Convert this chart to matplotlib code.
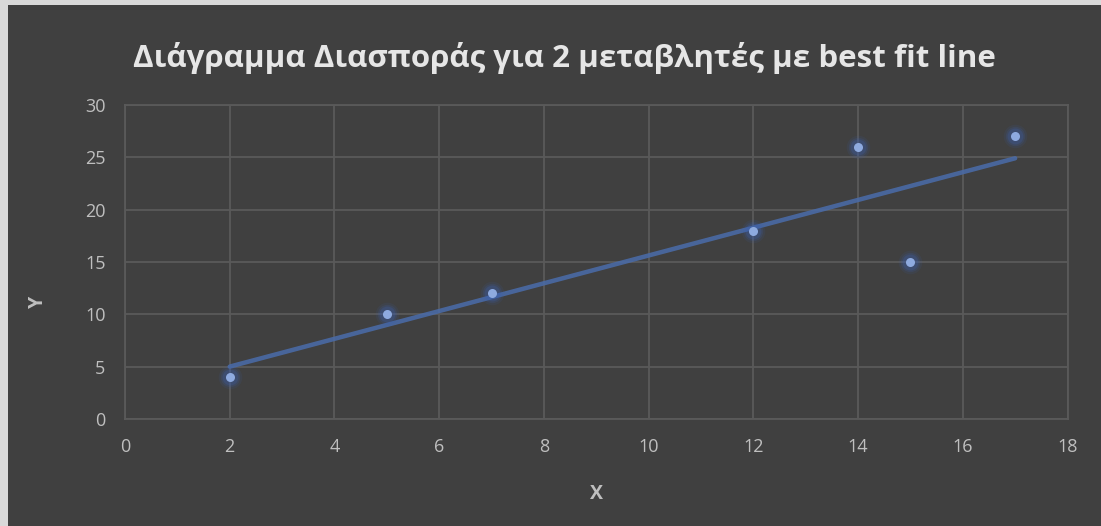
import numpy as np
import matplotlib
matplotlib.use("Agg")
import matplotlib.pyplot as plt
from matplotlib.patches import Rectangle

# data
x_vals = [2, 5, 7, 12, 14, 15, 17]
y_vals = [4, 10, 12, 18, 26, 15, 27]
x_ticks = [0, 2, 4, 6, 8, 10, 12, 14, 16, 18]
y_ticks = [0, 5, 10, 15, 20, 25, 30]
title = "Διάγραμμα Διασποράς για 2 μεταβλητές με best fit line"

plt.rcParams['font.family'] = ['Open Sans', 'DejaVu Sans']

W, H = 1101, 526
fig = plt.figure(figsize=(W / 100, H / 100), dpi=100)
fig.patch.set_facecolor("#d9d9d9")
bg = "#404040"
fig.patches.append(Rectangle((8 / W, 0), 1, 1 - 5 / H, transform=fig.transFigure,
                             facecolor=bg, edgecolor="none", zorder=-10))

ax = fig.add_axes([125 / W, (526 - 419) / H, (1067.5 - 125) / W, (419 - 105) / H])
ax.set_facecolor(bg)

grid_c = "#5a5a5a"
ax.set_xlim(0, 18)
ax.set_ylim(0, 30)
ax.set_xticks(x_ticks)
ax.set_yticks(y_ticks)
ax.grid(True, color=grid_c, linewidth=1.3)
ax.set_axisbelow(True)
for s in ax.spines.values():
    s.set_color(grid_c)
    s.set_linewidth(1.3)
ax.tick_params(length=0, colors="#bfbfbf", labelsize=13)
ax.tick_params(axis="x", pad=14)
ax.tick_params(axis="y", pad=14)

# best fit line (least squares)
xs = np.array(x_vals, dtype=float)
ys = np.array(y_vals, dtype=float)
slope, intercept = np.polyfit(xs, ys, 1)
xl = np.array([xs.min(), xs.max()])
ax.plot(xl, slope * xl + intercept, color="#4a6aa5", linewidth=3.2,
        solid_capstyle="round", alpha=0.9, zorder=2)

# glowing markers
for size, alpha in [(17, 0.10), (14, 0.16), (11.5, 0.25)]:
    ax.plot(xs, ys, "o", color="#3b5fb0", markersize=size, alpha=alpha,
            markeredgewidth=0, zorder=3)
ax.plot(xs, ys, "o", color="#8eaadf", markersize=6.5, markeredgewidth=0, zorder=4)

ax.set_xlabel("X", color="#bfbfbf", fontsize=14, fontweight="bold", labelpad=20)
ax.set_ylabel("Y", color="#bfbfbf", fontsize=14, fontweight="bold")
ax.yaxis.set_label_coords(-0.082, 0.373)

fig.text(0.513, 1 - 58 / H, title, ha="center", va="center", color="#e6e6e6",
         fontsize=22.5, fontweight="bold")

fig.savefig("out.png", dpi=100, facecolor=fig.get_facecolor())
